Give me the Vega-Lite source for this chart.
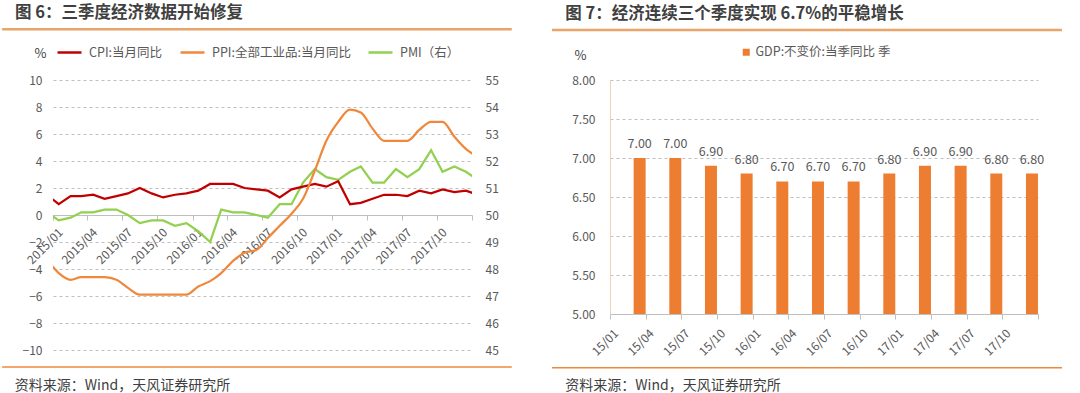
{
  "$schema": "https://vega.github.io/schema/vega-lite/v6.json",
  "background": "white",
  "padding": {"left": 0, "top": 5, "right": 5, "bottom": 0},
  "bounds": "flush",
  "spacing": 138,
  "config": {"font": "Noto Sans CJK SC", "view": {"stroke": null}},
  "resolve": {"scale": {"color": "independent"}, "legend": {"color": "independent"}},
  "hconcat": [
    {
      "width": 419,
      "height": 270,
      "title": {"text": "图 6：三季度经济数据开始修复", "anchor": "start", "frame": "group", "dx": -38, "offset": 6, "fontSize": 16.5, "fontWeight": "bold", "color": "#404040"},
      "data": {"values": [
        {"date": "2014/12/16", "cpi": 1.5, "ppi": -3.3, "pmi": 50.1},
        {"date": "2015/01/16", "cpi": 0.8, "ppi": -4.3, "pmi": 49.8},
        {"date": "2015/02/16", "cpi": 1.4, "ppi": -4.8, "pmi": 49.9},
        {"date": "2015/03/16", "cpi": 1.4, "ppi": -4.6, "pmi": 50.1},
        {"date": "2015/04/16", "cpi": 1.5, "ppi": -4.6, "pmi": 50.1},
        {"date": "2015/05/16", "cpi": 1.2, "ppi": -4.6, "pmi": 50.2},
        {"date": "2015/06/16", "cpi": 1.4, "ppi": -4.8, "pmi": 50.2},
        {"date": "2015/07/16", "cpi": 1.6, "ppi": -5.4, "pmi": 50.0},
        {"date": "2015/08/16", "cpi": 2.0, "ppi": -5.9, "pmi": 49.7},
        {"date": "2015/09/16", "cpi": 1.6, "ppi": -5.9, "pmi": 49.8},
        {"date": "2015/10/16", "cpi": 1.3, "ppi": -5.9, "pmi": 49.8},
        {"date": "2015/11/16", "cpi": 1.5, "ppi": -5.9, "pmi": 49.6},
        {"date": "2015/12/16", "cpi": 1.6, "ppi": -5.9, "pmi": 49.7},
        {"date": "2016/01/16", "cpi": 1.8, "ppi": -5.3, "pmi": 49.4},
        {"date": "2016/02/16", "cpi": 2.3, "ppi": -4.9, "pmi": 49.0},
        {"date": "2016/03/16", "cpi": 2.3, "ppi": -4.3, "pmi": 50.2},
        {"date": "2016/04/16", "cpi": 2.3, "ppi": -3.4, "pmi": 50.1},
        {"date": "2016/05/16", "cpi": 2.0, "ppi": -2.8, "pmi": 50.1},
        {"date": "2016/06/16", "cpi": 1.9, "ppi": -2.6, "pmi": 50.0},
        {"date": "2016/07/16", "cpi": 1.8, "ppi": -1.7, "pmi": 49.9},
        {"date": "2016/08/16", "cpi": 1.3, "ppi": -0.8, "pmi": 50.4},
        {"date": "2016/09/16", "cpi": 1.9, "ppi": 0.1, "pmi": 50.4},
        {"date": "2016/10/16", "cpi": 2.1, "ppi": 1.2, "pmi": 51.2},
        {"date": "2016/11/16", "cpi": 2.3, "ppi": 3.3, "pmi": 51.7},
        {"date": "2016/12/16", "cpi": 2.1, "ppi": 5.5, "pmi": 51.4},
        {"date": "2017/01/16", "cpi": 2.5, "ppi": 6.9, "pmi": 51.3},
        {"date": "2017/02/16", "cpi": 0.8, "ppi": 7.8, "pmi": 51.6},
        {"date": "2017/03/16", "cpi": 0.9, "ppi": 7.6, "pmi": 51.8},
        {"date": "2017/04/16", "cpi": 1.2, "ppi": 6.4, "pmi": 51.2},
        {"date": "2017/05/16", "cpi": 1.5, "ppi": 5.5, "pmi": 51.2},
        {"date": "2017/06/16", "cpi": 1.5, "ppi": 5.5, "pmi": 51.7},
        {"date": "2017/07/16", "cpi": 1.4, "ppi": 5.5, "pmi": 51.4},
        {"date": "2017/08/16", "cpi": 1.8, "ppi": 6.3, "pmi": 51.7},
        {"date": "2017/09/16", "cpi": 1.6, "ppi": 6.9, "pmi": 52.4},
        {"date": "2017/10/16", "cpi": 1.9, "ppi": 6.9, "pmi": 51.6},
        {"date": "2017/11/16", "cpi": 1.7, "ppi": 5.8, "pmi": 51.8},
        {"date": "2017/12/16", "cpi": 1.8, "ppi": 4.9, "pmi": 51.6},
        {"date": "2018/01/16", "cpi": 1.5, "ppi": 4.3, "pmi": 51.3}
      ]},
      "layer": [
        {
          "mark": {"type": "line", "clip": true, "strokeWidth": 2.25},
          "encoding": {
            "x": {"field": "date", "type": "temporal"},
            "y": {"field": "pmi", "type": "quantitative",
              "scale": {"domain": [45, 55], "nice": false, "zero": false},
              "axis": {"orient": "right", "values": [45, 46, 47, 48, 49, 50, 51, 52, 53, 54, 55], "tickCount": 11, "title": null, "grid": false, "domain": false, "ticks": false, "labelPadding": 13, "labelFontSize": 12, "labelColor": "#595959"}},
            "color": {"datum": "PMI（右）", "type": "nominal"}
          }
        },
        {
          "layer": [
            {
              "data": {"values": [{}]},
              "mark": {"type": "rule", "color": "#E9A46A", "strokeWidth": 2.5},
              "encoding": {
                "x": {"datum": {"year": 2014, "month": 8, "date": 21}, "type": "temporal"},
                "x2": {"datum": {"year": 2018, "month": 4, "date": 15}},
                "y": {"datum": 13.76, "type": "quantitative"}
              }
            },
            {
              "data": {"values": [{}]},
              "mark": {"type": "rule", "color": "#F0883A", "strokeWidth": 1.5},
              "encoding": {
                "x": {"datum": {"year": 2014, "month": 8, "date": 21}, "type": "temporal"},
                "x2": {"datum": {"year": 2018, "month": 4, "date": 15}},
                "y": {"datum": -11.26, "type": "quantitative"}
              }
            },
            {
              "data": {"values": [{"t": "资料来源：Wind，天风证券研究所"}]},
              "mark": {"type": "text", "align": "left", "baseline": "middle", "fontSize": 14, "color": "#404040"},
              "encoding": {
                "x": {"datum": {"year": 2014, "month": 9, "date": 23}, "type": "temporal"},
                "y": {"datum": -12.63, "type": "quantitative"},
                "text": {"field": "t"}
              }
            },
            {
              "mark": {"type": "line", "clip": true, "strokeWidth": 2.25},
              "encoding": {
                "x": {"field": "date", "type": "temporal",
                  "scale": {"domain": [{"year": 2015, "month": 1, "date": 1}, {"year": 2018, "month": 1, "date": 1}], "nice": false},
                  "axis": {
                    "values": [
                      {"year": 2015, "month": 1, "date": 1}, {"year": 2015, "month": 4, "date": 1}, {"year": 2015, "month": 7, "date": 1}, {"year": 2015, "month": 10, "date": 1},
                      {"year": 2016, "month": 1, "date": 1}, {"year": 2016, "month": 4, "date": 1}, {"year": 2016, "month": 7, "date": 1}, {"year": 2016, "month": 10, "date": 1},
                      {"year": 2017, "month": 1, "date": 1}, {"year": 2017, "month": 4, "date": 1}, {"year": 2017, "month": 7, "date": 1}, {"year": 2017, "month": 10, "date": 1},
                      {"year": 2018, "month": 1, "date": 1}
                    ],
                    "tickCount": 13,
                    "labelExpr": "year(datum.value) >= 2018 ? '' : timeFormat(datum.value, '%Y/%m')",
                    "offset": -135,
                    "title": null,
                    "grid": false,
                    "labelAngle": -45,
                    "labelAlign": "right",
                    "labelBaseline": "middle",
                    "labelOffset": 7.5,
                    "labelPadding": 10,
                    "labelFlush": false,
                    "labelOverlap": false,
                    "labelBound": false,
                    "tickSize": 5,
                    "tickColor": "#BFBFBF",
                    "domainColor": "#BFBFBF",
                    "labelFontSize": 12,
                    "labelColor": "#595959"
                  }},
                "y": {"field": "cpi", "type": "quantitative",
                  "scale": {"domain": [-10, 10], "nice": false, "zero": false},
                  "axis": {"values": [-10, -8, -6, -4, -2, 0, 2, 4, 6, 8, 10], "tickCount": 11, "labelOverlap": false, "title": "%", "titleAngle": 0, "titleX": -13, "titleY": -27, "titleAlign": "center", "titleBaseline": "middle", "titleFontSize": 13, "titleFontWeight": "normal", "titleColor": "#404040",
                    "grid": true, "gridDash": [3, 3], "gridColor": "#BFBFBF", "domain": false, "ticks": false, "labelPadding": 11, "labelFontSize": 12, "labelColor": "#595959"}},
                "color": {"datum": "CPI:当月同比", "type": "nominal",
                  "scale": {"domain": ["CPI:当月同比", "PPI:全部工业品:当月同比", "PMI（右）"], "range": ["#C00000", "#F0883C", "#92D050"]},
                  "legend": {"orient": "none", "legendX": 3, "legendY": -41, "direction": "horizontal", "title": null, "symbolType": "stroke", "symbolSize": 576, "symbolStrokeWidth": 2.5, "labelFontSize": 12.5, "labelColor": "#595959", "labelOffset": 6, "columnPadding": 12, "padding": 0, "labelLimit": 300}}
              }
            },
            {
              "mark": {"type": "line", "clip": true, "strokeWidth": 2.25, "interpolate": "monotone"},
              "encoding": {
                "x": {"field": "date", "type": "temporal"},
                "y": {"field": "ppi", "type": "quantitative"},
                "color": {"datum": "PPI:全部工业品:当月同比", "type": "nominal"}
              }
            }
          ]
        }
      ],
      "resolve": {"scale": {"y": "independent"}}
    },
    {
      "width": 428,
      "height": 234,
      "title": {"text": "图 7：经济连续三个季度实现 6.7%的平稳增长", "anchor": "start", "frame": "group", "dx": -44.7, "offset": 6, "fontSize": 16.5, "fontWeight": "bold", "color": "#404040"},
      "layer": [
        {
          "data": {"values": [{}]},
          "mark": {"type": "rule", "color": "#E9A46A", "strokeWidth": 2.5},
          "encoding": {
            "x": {"datum": -1.626, "type": "quantitative", "scale": {"domain": [0, 12], "nice": false, "zero": false}, "axis": null},
            "x2": {"datum": 12.672},
            "y": {"datum": 8.641, "type": "quantitative"}
          }
        },
        {
          "data": {"values": [{}]},
          "mark": {"type": "rule", "color": "#F0883A", "strokeWidth": 1.5},
          "encoding": {
            "x": {"datum": -1.626, "type": "quantitative", "scale": {"domain": [0, 12], "nice": false, "zero": false}, "axis": null},
            "x2": {"datum": 12.672},
            "y": {"datum": 4.312, "type": "quantitative"}
          }
        },
        {
          "data": {"values": [{"t": "资料来源：Wind，天风证券研究所"}]},
          "mark": {"type": "text", "align": "left", "baseline": "middle", "fontSize": 14, "color": "#404040"},
          "encoding": {
            "x": {"datum": -1.253, "type": "quantitative", "scale": {"domain": [0, 12], "nice": false, "zero": false}, "axis": null},
            "y": {"datum": 4.081, "type": "quantitative"},
            "text": {"field": "t"}
          }
        },
        {
          "data": {"values": [
            {"q": "15/01", "gdp": 7.0},
            {"q": "15/04", "gdp": 7.0},
            {"q": "15/07", "gdp": 6.9},
            {"q": "15/10", "gdp": 6.8},
            {"q": "16/01", "gdp": 6.7},
            {"q": "16/04", "gdp": 6.7},
            {"q": "16/07", "gdp": 6.7},
            {"q": "16/10", "gdp": 6.8},
            {"q": "17/01", "gdp": 6.9},
            {"q": "17/04", "gdp": 6.9},
            {"q": "17/07", "gdp": 6.8},
            {"q": "17/10", "gdp": 6.8}
          ]},
          "layer": [
            {
              "mark": {"type": "bar", "width": 12, "xOffset": 11.8},
              "encoding": {
                "x": {"field": "q", "type": "ordinal", "sort": null,
                  "scale": {"paddingInner": 0, "paddingOuter": 0},
                  "axis": {"title": null, "labelAngle": -45, "labelAlign": "right", "labelBaseline": "middle", "labelOffset": -12, "labelPadding": 12, "tickBand": "extent", "tickSize": 5, "tickColor": "#BFBFBF", "domainColor": "#BFBFBF", "labelFontSize": 12, "labelColor": "#595959", "grid": false}},
                "y": {"field": "gdp", "type": "quantitative",
                  "scale": {"domain": [5, 8], "nice": false, "zero": false},
                  "axis": {"values": [5, 5.5, 6, 6.5, 7, 7.5, 8], "tickCount": 7, "labelOverlap": false, "format": ".2f", "title": "%", "titleAngle": 0, "titleX": -30, "titleY": -25, "titleAlign": "center", "titleBaseline": "middle", "titleFontSize": 13, "titleFontWeight": "normal", "titleColor": "#404040",
                    "grid": true, "gridDash": [3, 3], "gridColor": "#BFBFBF", "domain": true, "domainColor": "#F2D3B5", "ticks": false, "labelPadding": 15, "labelFontSize": 12, "labelColor": "#595959"}},
                "y2": {"datum": 5},
                "color": {"datum": "GDP:不变价:当季同比 季", "type": "nominal", "scale": {"domain": ["GDP:不变价:当季同比 季"], "range": ["#ED7D31"]},
                  "legend": {"orient": "none", "legendX": 130, "legendY": -34, "title": null, "symbolType": "square", "symbolSize": 49, "symbolStrokeWidth": 0, "labelOffset": 3, "labelFontSize": 12.5, "labelColor": "#595959", "padding": 0, "labelLimit": 300}}
              }
            },
            {
              "mark": {"type": "text", "dx": 11.8, "dy": -14, "fontSize": 12.5, "color": "#595959"},
              "encoding": {
                "x": {"field": "q", "type": "ordinal", "sort": null},
                "y": {"field": "gdp", "type": "quantitative"},
                "text": {"field": "gdp", "type": "quantitative", "format": ".2f"}
              }
            }
          ]
        }
      ],
      "resolve": {"scale": {"x": "independent"}}
    }
  ]
}
